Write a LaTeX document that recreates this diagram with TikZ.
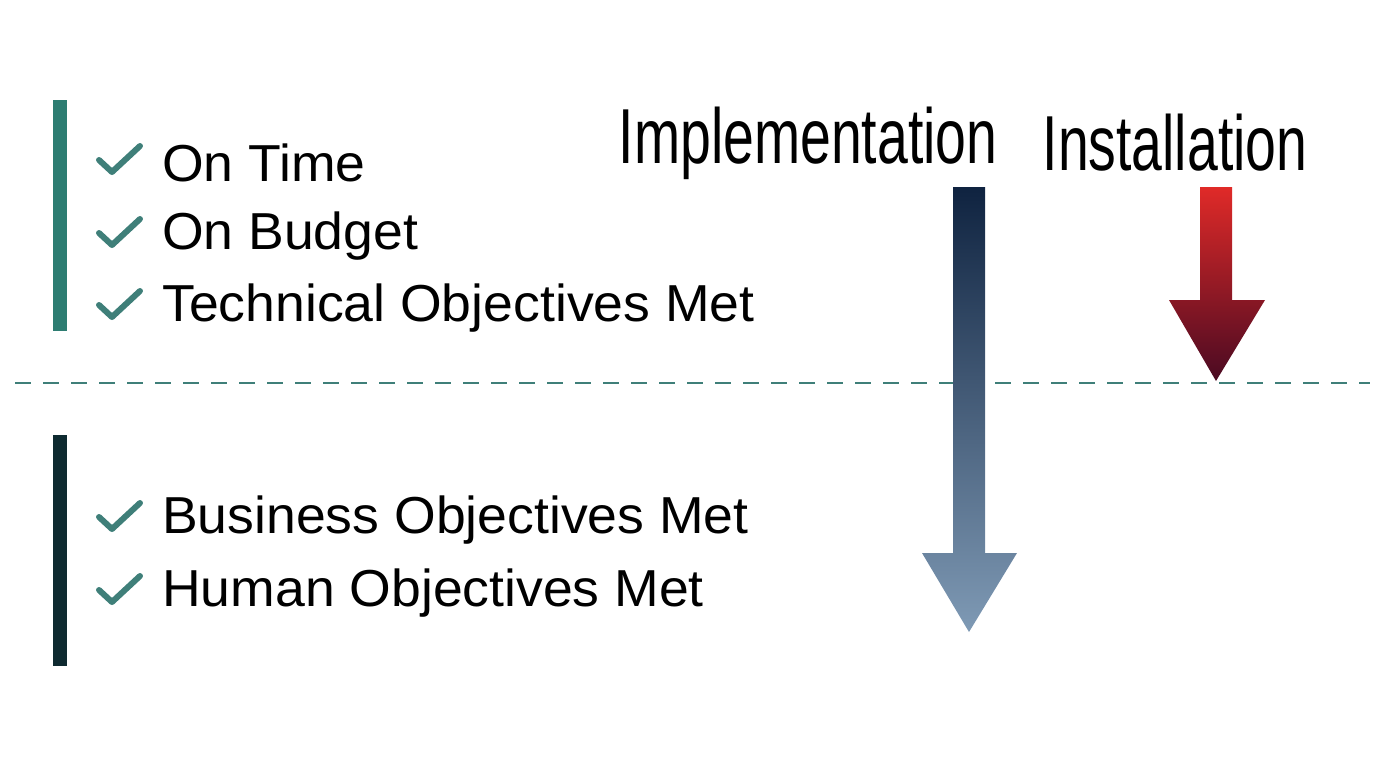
\documentclass[tikz,border=0pt]{standalone}
\usepackage{fontspec}
\setmainfont{Liberation Sans}[FakeStretch=1.03]
\newfontfamily\headfont{Liberation Sans}[FakeStretch=0.71]
\usetikzlibrary{positioning}
\definecolor{tealbar}{HTML}{2E7D72}
\definecolor{darkbar}{HTML}{0E2A30}
\definecolor{checkc}{HTML}{3F7F79}
\definecolor{blueTop}{HTML}{0F2340}
\definecolor{blueBot}{HTML}{7F9AB5}
\definecolor{redTop}{HTML}{E02A28}
\definecolor{redBot}{HTML}{4A0A22}
\tikzset{
  item/.style={anchor=west,font=\fontsize{52}{60}\selectfont,inner sep=0pt},
  head/.style={font=\headfont\fontsize{78}{90}\selectfont,inner sep=0pt},
  check/.style={draw=checkc,line width=6pt,line cap=round,line join=round}
}
\begin{document}
\begin{tikzpicture}[x=1pt,y=-1pt]
\useasboundingbox (0,0) rectangle (1376,768);
% side bars
\fill[tealbar] (53,100) rectangle (67,331);
\fill[darkbar] (53,435) rectangle (67,666);
% items
\foreach \name/\y/\txt in {ontime/160/On Time,budget/233/On Budget,tech/305/Technical Objectives Met,business/517/Business Objectives Met,human/590/Human Objectives Met}{
  \node[item] (\name) at (162,\y+3) {\txt};
  \draw[check] (99,\y) -- (112,\y+12) -- (140,\y-14);
}
% dashed divider
\draw[checkc,line width=2.5pt,dash pattern=on 16pt off 12pt] (15,383) -- (1370,383);
% headings
\node[head] (impl) at (808,143) {Implementation};
\node[head] (inst) at (1175,143) {Installation};
% arrows
\shade[top color=blueTop,bottom color=blueBot]
  (953,187) -- (985,187) -- (985,553) -- (1017,553) -- (969,632) -- (922,553) -- (953,553) -- cycle;
\shade[top color=redTop,bottom color=redBot]
  (1200,187) -- (1232,187) -- (1232,300) -- (1265,300) -- (1216,381) -- (1169,300) -- (1200,300) -- cycle;
\end{tikzpicture}
\end{document}
